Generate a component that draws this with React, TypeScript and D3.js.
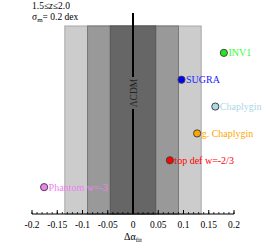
import React from "react";
import * as d3 from "d3";

const models = ["INV1", "SUGRA", "Chaplygin", "g. Chaplygin", "top def w=-2/3", "Phantom w=-3"];
const deltaAlpha = [0.18, 0.096, 0.163, 0.127, 0.073, -0.176];
const rowIndex = [6, 5, 4, 3, 2, 1];
const dotColors = ["#22e622", "#0000ff", "#add8e6", "#ffa500", "#ff0000", "#ee82ee"];
const labelColors = ["#33ff33", "#2222ff", "#add8e6", "#ffa500", "#ff0000", "#ee82ee"];
const sigmaBands = [0.135, 0.09, 0.045];
const bandFills = ["#cccccc", "#999999", "#666666"];
const bandStrokes = ["#a8a8a8", "#777777", "#555555"];
const majorTicks = [-0.2, -0.15, -0.1, -0.05, 0, 0.05, 0.1, 0.15, 0.2];
const tickLabels = ["-0.2", "-0.15", "-0.1", "-0.05", "0", "0.05", "0.1", "0.15", "0.2"];

const W = 266, H = 248;
const font = "'Liberation Serif', 'Times New Roman', serif";

export default function App() {
  const x = d3.scaleLinear().domain([-0.2, 0.2]).range([32, 234]);
  const y = d3.scaleLinear().domain([0, 7]).range([214, 26]);
  const minorTicks = d3.range(-20, 21).map((i) => i / 100);
  const yBase = y(0);
  const yTop = y(7);
  return (
    <svg width={W} height={H} style={{ position: "absolute", left: 0, top: 0, background: "#fff" }} fontFamily={font}>
      {sigmaBands.map((s, i) => (
        <rect key={i} x={x(-s)} y={yTop} width={x(s) - x(-s)} height={yBase - yTop}
          fill={bandFills[i]} stroke={bandStrokes[i]} strokeWidth={1} />
      ))}
      <line x1={x(0)} x2={x(0)} y1={13} y2={77} stroke="#000" strokeWidth={2} />
      <line x1={x(0)} x2={x(0)} y1={109} y2={yBase} stroke="#000" strokeWidth={2} />
      <text transform={`translate(${x(0) + 3.5},93) rotate(-90)`} textAnchor="middle" fontSize={9.5} fill="#222">ΛCDM</text>
      {/* axis */}
      <line x1={x(-0.2)} x2={x(0.2)} y1={yBase} y2={yBase} stroke="#000" strokeWidth={1} />
      {minorTicks.map((t, i) => (
        <line key={"m" + i} x1={x(t)} x2={x(t)} y1={yBase} y2={yBase - 2} stroke="#000" strokeWidth={0.8} />
      ))}
      {majorTicks.map((t, i) => (
        <line key={"M" + i} x1={x(t)} x2={x(t)} y1={yBase} y2={yBase - 4} stroke="#000" strokeWidth={1} />
      ))}
      {majorTicks.map((t, i) => (
        <text key={"l" + i} x={x(t)} y={228} textAnchor="middle" fontSize={9.5} fill="#000">{tickLabels[i]}</text>
      ))}
      <text x={x(0)} y={240} textAnchor="middle" fontSize={10} fill="#000">
        Δα<tspan fontSize={7} dy={2}>fit</tspan>
      </text>
      {/* title */}
      <text x={32} y={9} fontSize={9.5} fill="#000">1.5≤<tspan fontStyle="italic">z</tspan>≤2.0</text>
      <text x={32} y={20} fontSize={9.5} fill="#000">σ<tspan fontSize={7} dy={2}>m</tspan><tspan dy={-2}>= 0.2 dex</tspan></text>
      {/* points */}
      {models.map((m, i) => (
        <g key={m}>
          <circle cx={x(deltaAlpha[i])} cy={y(rowIndex[i])} r={3.6} fill={dotColors[i]} stroke="#444" strokeWidth={1} />
          <text x={x(deltaAlpha[i]) + 4.5} y={y(rowIndex[i]) + 3.5} fontSize={10} fill={labelColors[i]}>{m}</text>
        </g>
      ))}
    </svg>
  );
}
